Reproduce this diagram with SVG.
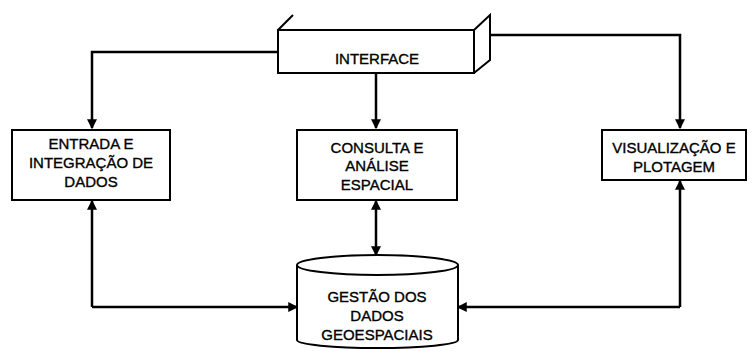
<svg xmlns="http://www.w3.org/2000/svg" width="752" height="354" viewBox="0 0 752 354">
<style>
.b{fill:#fff;stroke:#000;stroke-width:2}
.l{fill:none;stroke:#000;stroke-width:2.5}
.t{font-family:"Liberation Sans",Arial,sans-serif;font-size:15px;fill:#000;stroke:#000;stroke-width:0.35;text-anchor:middle}
</style>
<defs>
<marker id="a" markerWidth="4" markerHeight="4" refX="3.5" refY="2" orient="auto" markerUnits="strokeWidth"><path d="M0,0 L4,2 L0,4 Z" fill="#000" stroke="none"/></marker>
</defs>
<rect width="752" height="354" fill="#fff"/>
<g id="connectors">
<path class="l" d="M278,52 H92 V128" marker-end="url(#a)"/>
<path class="l" d="M376,73 V128" marker-end="url(#a)"/>
<path class="l" d="M490,35 H680 V128" marker-end="url(#a)"/>
<path class="l" d="M92,307 V201" marker-end="url(#a)"/>
<path class="l" d="M92,307 H297" marker-end="url(#a)"/>
<path class="l" d="M376,230 V201" marker-end="url(#a)"/>
<path class="l" d="M376,230 V255" marker-end="url(#a)"/>
<path class="l" d="M680,307 V181" marker-end="url(#a)"/>
<path class="l" d="M680,307 H458" marker-end="url(#a)"/>
</g>
<g id="interface">
<rect class="b" x="278" y="30" width="196" height="43"/>
<path fill="none" stroke="#000" stroke-width="2" d="M278,30 L293,15 M474,30 L490,15 V60 L474,73"/>
<text class="t" x="377" y="64">INTERFACE</text>
</g>
<g id="entrada">
<rect class="b" x="12" y="130" width="158" height="70"/>
<text class="t" x="91" y="149">ENTRADA E</text>
<text class="t" x="91" y="168">INTEGRAÇÃO DE</text>
<text class="t" x="91" y="187">DADOS</text>
</g>
<g id="consulta">
<rect class="b" x="297" y="130" width="160" height="70"/>
<text class="t" x="377" y="153">CONSULTA E</text>
<text class="t" x="377" y="171">ANÁLISE</text>
<text class="t" x="377" y="190">ESPACIAL</text>
</g>
<g id="visualizacao">
<rect class="b" x="602" y="130" width="144" height="50"/>
<text class="t" x="674" y="153">VISUALIZAÇÃO E</text>
<text class="t" x="674" y="172">PLOTAGEM</text>
</g>
<g id="gestao">
<path class="b" d="M297,265 V340 A80.5,8 0 0 0 458,340 V265"/>
<ellipse class="b" cx="377.5" cy="265" rx="80.5" ry="10"/>
<text class="t" x="377" y="302">GESTÃO DOS</text>
<text class="t" x="377" y="321">DADOS</text>
<text class="t" x="377" y="340">GEOESPACIAIS</text>
</g>
</svg>
